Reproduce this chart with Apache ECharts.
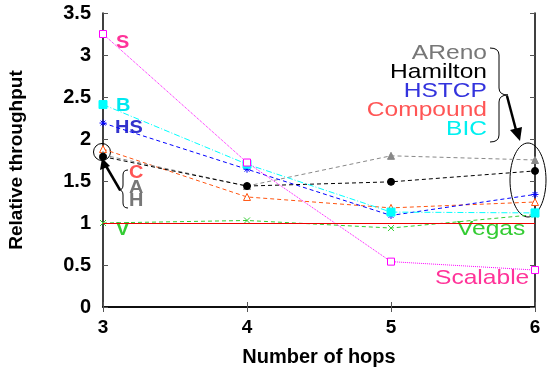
<!DOCTYPE html>
<html>
<head>
<meta charset="utf-8">
<script src="https://cdn.jsdelivr.net/npm/echarts@6/dist/echarts.min.js"></script>
<style>
  html, body { margin: 0; padding: 0; background: #fff; }
  #chart { width: 547px; height: 369px; }
</style>
</head>
<body>
<div id="chart"></div>
<script>
// 数据
const hops = [3, 4, 5, 6];
const scalable = [3.25, 1.72, 0.54, 0.44];
const bic = [2.41, 1.70, 1.13, 1.12];
const hstcp = [2.19, 1.64, 1.09, 1.34];
const compound = [1.88, 1.31, 1.18, 1.25];
const areno = [1.81, 1.44, 1.80, 1.75];
const hamilton = [1.79, 1.44, 1.49, 1.62];
const vegas = [1.0, 1.03, 0.94, 1.10];
const yTicks = [0, 0.5, 1, 1.5, 2, 2.5, 3, 3.5];

const pair = (arr) => hops.map((h, i) => [h, arr[i]]);
const starPath = 'path://M0,5L10,5M5,0L5,10M1.5,1.5L8.5,8.5M8.5,1.5L1.5,8.5';
const crossPath = 'path://M0,0L10,10M10,0L0,10';

const mkSeries = (name, data, color, lineType, symbol, size, filled) => ({
    name,
    type: 'line',
    data: pair(data),
    symbol,
    symbolSize: size,
    showSymbol: true,
    lineStyle: { color, width: 1, type: lineType },
    itemStyle: { color: filled ? color : '#fff', borderColor: color, borderWidth: 1 },
    emphasis: { disabled: true },
    z: 3,
});

// 花括号（由曲线和直线拼成）
const brace = (xEdge, xMid, xTip, y1, yMid, y2, r) => {
    const st = { fill: 'none', stroke: '#000', lineWidth: 1 };
    return [
        { type: 'bezierCurve', shape: { x1: xEdge, y1: y1, cpx1: xMid, cpy1: y1, x2: xMid, y2: y1 + r }, style: st },
        { type: 'line', shape: { x1: xMid, y1: y1 + r, x2: xMid, y2: yMid - r }, style: st },
        { type: 'bezierCurve', shape: { x1: xMid, y1: yMid - r, cpx1: xMid, cpy1: yMid, x2: xTip, y2: yMid }, style: st },
        { type: 'bezierCurve', shape: { x1: xTip, y1: yMid, cpx1: xMid, cpy1: yMid, x2: xMid, y2: yMid + r }, style: st },
        { type: 'line', shape: { x1: xMid, y1: yMid + r, x2: xMid, y2: y2 - r }, style: st },
        { type: 'bezierCurve', shape: { x1: xMid, y1: y2 - r, cpx1: xMid, cpy1: y2, x2: xEdge, y2: y2 }, style: st },
    ];
};

const font = 'Liberation Sans, Arial, sans-serif';
// 右侧横向拉伸的文字
const wideText = (text, x, y, color, align) => ({
    type: 'text', x, y, scaleX: 1.17,
    style: { text, fill: color, font: '21px ' + font, align, verticalAlign: 'middle' },
});
const boldText = (text, x, y, color) => ({
    type: 'text', x, y, scaleX: 1.05,
    style: { text, fill: color, font: 'bold 19px ' + font, align: 'left', verticalAlign: 'middle' },
});

const chart = echarts.init(document.getElementById('chart'));

chart.setOption({
    animation: false,
    grid: { left: 103, right: 12, top: 13, bottom: 62, outerBoundsMode: 'none', containLabel: false },
    xAxis: [
        {
            type: 'value', min: 3, max: 6, interval: 1,
            name: 'Number of hops', nameLocation: 'middle', nameGap: 40,
            nameTextStyle: { fontFamily: font, fontWeight: 'bold', fontSize: 20, color: '#000' },
            axisLine: { lineStyle: { color: '#000', width: 1.5 } },
            axisTick: { inside: true, length: 5, lineStyle: { color: '#555' } },
            axisLabel: { fontFamily: font, fontWeight: 'bold', fontSize: 19, color: '#000', margin: 11 },
            splitLine: { show: false },
        },
        {
            type: 'value', position: 'top', min: 3, max: 6, interval: 1,
            axisLine: { lineStyle: { color: '#000', width: 1.5 } },
            axisTick: { inside: true, length: 5, lineStyle: { color: '#555' } },
            axisLabel: { show: false },
            splitLine: { show: false },
        },
    ],
    yAxis: [
        {
            type: 'value', min: 0, max: 3.5, interval: 0.5,
            name: 'Relative throughput', nameLocation: 'middle', nameGap: 77, nameRotate: 90,
            nameTextStyle: { fontFamily: font, fontWeight: 'bold', fontSize: 19, color: '#000' },
            axisLine: { show: true, lineStyle: { color: '#000', width: 1.5 } },
            axisTick: { show: true, inside: true, length: 5, lineStyle: { color: '#555' } },
            axisLabel: {
                fontFamily: font, fontWeight: 'bold', fontSize: 20, color: '#000', margin: 12,
                formatter: (v) => (yTicks.includes(v) ? String(v) : ''),
            },
            splitLine: { show: false },
        },
        {
            type: 'value', position: 'right', min: 0, max: 3.5, interval: 0.5,
            axisLine: { show: true, lineStyle: { color: '#000', width: 1.5 } },
            axisTick: { show: true, inside: true, length: 5, lineStyle: { color: '#555' } },
            axisLabel: { show: false },
            splitLine: { show: false },
        },
    ],
    series: [
        Object.assign(mkSeries('Vegas', vegas, '#33cc33', [4, 3], crossPath, 6, false), {
            markLine: {
                silent: true, symbol: 'none', label: { show: false },
                lineStyle: { color: '#ee0000', width: 1, type: 'solid' },
                data: [{ yAxis: 1 }],
            },
        }),
        mkSeries('Compound', compound, '#ff5511', [4, 3], 'triangle', 7, false),
        mkSeries('AReno', areno, '#888888', [4, 3], 'triangle', 7, true),
        mkSeries('Hamilton', hamilton, '#000000', [4, 3], 'circle', 7, true),
        mkSeries('HSTCP', hstcp, '#0000ff', [4, 3], starPath, 7, false),
        mkSeries('BIC', bic, '#00ffff', [6, 2, 1, 2], 'rect', 8, true),
        mkSeries('Scalable', scalable, '#ff00ff', [1, 1], 'rect', 7, false),
    ],
    graphic: [
        // 左侧标注
        boldText('S', 116, 43, '#ff3399'),
        boldText('B', 116, 106, '#00e8f0'),
        boldText('HS', 115, 128, '#3333cc'),
        boldText('C', 129, 173, '#ff5555'),
        boldText('A', 129, 188, '#777777'),
        boldText('H', 129, 201, '#777777'),
        boldText('V', 116, 230, '#33cc33'),
        { type: 'circle', shape: { cx: 102, cy: 152, r: 8.5 }, style: { fill: 'none', stroke: '#000', lineWidth: 1 } },
        { type: 'line', shape: { x1: 120, y1: 190, x2: 106, y2: 166 }, style: { stroke: '#000', lineWidth: 2.5 } },
        { type: 'polygon', shape: { points: [[102, 158], [100, 170], [110, 166]] }, style: { fill: '#000' } },
        ...brace(128, 123, 119, 170, 190, 208, 5),
        // 右侧标注
        wideText('AReno', 487, 53, '#777777', 'right'),
        wideText('Hamilton', 487, 72, '#000000', 'right'),
        wideText('HSTCP', 487, 91, '#3333dd', 'right'),
        wideText('Compound', 487, 110, '#ff5555', 'right'),
        wideText('BIC', 487, 129, '#00f0f0', 'right'),
        ...brace(490, 499, 508, 48, 95, 142, 7),
        { type: 'line', shape: { x1: 507, y1: 96, x2: 516, y2: 130 }, style: { stroke: '#000', lineWidth: 2.5 } },
        { type: 'polygon', shape: { points: [[510, 130], [522, 127], [520, 141]] }, style: { fill: '#000' } },
        { type: 'ellipse', shape: { cx: 528, cy: 180, rx: 18, ry: 37 }, style: { fill: 'none', stroke: '#000', lineWidth: 1 } },
        wideText('Vegas', 457, 229, '#33cc33', 'left'),
        wideText('Scalable', 435, 278, '#ff3399', 'left'),
    ],
});
</script>
</body>
</html>
